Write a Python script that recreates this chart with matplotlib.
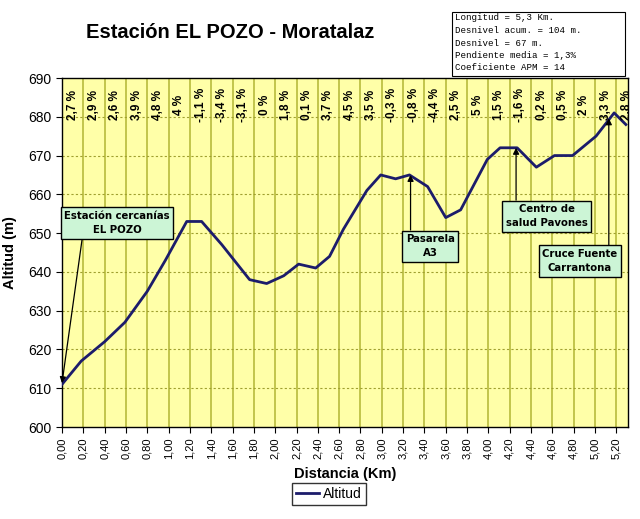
import matplotlib.pyplot as plt
import matplotlib.patches as mpatches
import numpy as np

plt.rcParams['font.family'] = ['Liberation Sans', 'DejaVu Sans']

# perfil de altitud (km, m)
distancia = [0, 0.18, 0.40, 0.59, 0.80, 0.97, 1.17, 1.31, 1.50, 1.76, 1.92, 2.08,
             2.22, 2.38, 2.51, 2.64, 2.86, 2.99, 3.13, 3.26, 3.43, 3.60, 3.74,
             3.99, 4.11, 4.27, 4.45, 4.62, 4.79, 5.01, 5.18, 5.29]
altitud = [611, 617, 622, 627, 635, 643, 653, 653, 647, 638, 637, 639,
           642, 641, 644, 651, 661, 665, 664, 665, 662, 654, 656,
           669, 672, 672, 667, 670, 670, 675, 681, 678]

# pendientes por tramo de 200 m
pendientes = ["2,7 %", "2,9 %", "2,6 %", "3,9 %", "4,8 %", "4 %", "-1,1 %", "-3,4 %",
              "-3,1 %", "0 %", "1,8 %", "0,1 %", "3,7 %", "4,5 %", "3,5 %", "-0,3 %",
              "-0,8 %", "-4,4 %", "2,5 %", "5 %", "1,5 %", "-1,6 %", "0,2 %", "0,5 %",
              "2 %", "3,3 %", "2,8 %"]

info = ["Longitud = 5,3 Km.", "Desnivel acum. = 104 m.", "Desnivel = 67 m.",
        "Pendiente media = 1,3%", "Coeficiente APM = 14"]

# (texto, centro caja, inicio flecha, punta flecha)
notas = [
    ("Estación cercanías\nEL POZO", (0.516, 652.6), (0.19, 648.7), (0.0, 611.3)),
    ("Pasarela\nA3", (3.455, 646.6), (3.27, 650.8), (3.27, 665)),
    ("Centro de\nsalud Pavones", (4.545, 654.4), (4.26, 658.5), (4.26, 672)),
    ("Cruce Fuente\nCarrantona", (4.86, 642.8), (5.13, 646.6), (5.13, 679.6)),
]

fig = plt.figure(figsize=(6.4, 5.19), dpi=100)
ax = fig.add_axes([62/640, 1-427/519, (628-62)/640, (427-78)/519])
ax.set_facecolor('#ffffa8')

ax.set_xlim(0, 5.31)
ax.set_ylim(600, 690)

ticks_x = np.arange(0, 5.21, 0.2)
ax.set_xticks(ticks_x)
ax.set_xticklabels([("%.2f" % t).replace('.', ',') for t in ticks_x], rotation=90, fontsize=8)
ax.set_yticks(range(600, 691, 10))
ax.tick_params(axis='y', labelsize=10, length=4)
ax.tick_params(axis='x', length=4)

for t in ticks_x[1:]:
    ax.axvline(t, color='#b8bb3c', lw=1.2, zorder=1)
for y in range(610, 690, 10):
    ax.axhline(y, color='#a0a030', lw=0.8, ls=(0, (2, 2)), zorder=1)

ax.plot(distancia, altitud, color='#1c1c6b', lw=2, label='Altitud', zorder=3)

for i, p in enumerate(pendientes):
    ax.text(0.1 + 0.2*i, 683, p, rotation=90, ha='center', va='center',
            fontsize=8.5, fontweight='bold', clip_on=True, zorder=4)

for texto, caja, ini, fin in notas:
    ax.annotate('', xy=fin, xytext=ini,
                arrowprops=dict(arrowstyle='-|>', color='black', lw=0.9,
                                mutation_scale=9, shrinkA=0, shrinkB=0), zorder=5)
    ax.text(caja[0], caja[1], texto, ha='center', va='center', fontsize=7.3,
            fontweight='bold', family='DejaVu Sans', linespacing=1.5, zorder=6,
            bbox=dict(boxstyle='square,pad=0.35', fc='#ccf5d6', ec='black', lw=1))

for s in ax.spines.values():
    s.set_color('black')
    s.set_linewidth(1)

ax.set_xlabel('Distancia (Km)', fontsize=10.5, fontweight='bold', labelpad=6)
ax.set_ylabel('Altitud (m)', fontsize=10.5, fontweight='bold', labelpad=8)

fig.text(230/640, 1-32/519, 'Estación EL POZO - Moratalaz', ha='center', va='center',
         fontsize=14.5, fontweight='bold')

# cuadro de datos
fig.patches.append(mpatches.Rectangle((452/640, 1-76/519), 173/640, 64/519,
                                      transform=fig.transFigure, fc='white',
                                      ec='black', lw=0.8))
for i, linea in enumerate(info):
    fig.text(455/640, 1-(18 + 12.5*i)/519, linea, ha='left', va='center',
             fontsize=6.6, family='Liberation Mono')

fig.legend(loc='center', bbox_to_anchor=(329/640, 1-494/519), fontsize=10,
           frameon=True, fancybox=False, edgecolor='black', handlelength=1.6,
           handletextpad=0.3, borderpad=0.3)

fig.savefig('out.png', dpi=100)
